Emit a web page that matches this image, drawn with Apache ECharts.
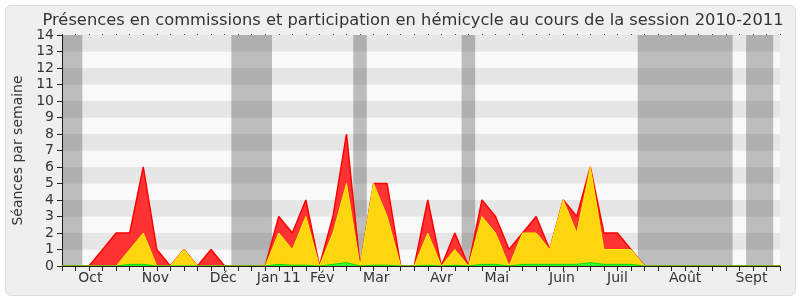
<!DOCTYPE html>
<html><head><meta charset="utf-8">
<script src="https://cdn.jsdelivr.net/npm/echarts@6/dist/echarts.min.js"></script>
<style>
html,body{margin:0;padding:0;background:#fff;}
#wrap{position:absolute;left:5px;top:5px;width:789px;height:289px;background:#efefef;border:1px solid #dcdcdc;border-radius:6px;}
#chart{position:absolute;left:0;top:0;width:800px;height:300px;}
</style></head><body>
<div id="wrap"></div>
<div id="chart"></div>
<script>
// Week index 0..53 (one point per week of the session)
const weeks = Array.from({length: 54}, (_, i) => i);
// Total presences (red)
const red = [0,0,0,1,2,2,6,1,0,1, 0,1,0,0,0,0,3,2,4,0, 3,8,0,5,5,0,0,4,0,2, 0,4,3,1,2,3,1,4,3,6, 2,2,1,0,0,0,0,0,0,0, 0,0,0,0];
// Hemicycle participation (yellow)
const yellow = [0,0,0,0,0,1,2,0,0,1, 0,0,0,0,0,0,2,1,3,0, 2,5,0,5,3,0,0,2,0,1, 0,3,2,0,2,2,1,4,2,6, 1,1,1,0,0,0,0,0,0,0, 0,0,0,0];
// Small green series
const green = [0,0,0,0,0,0.1,0.1,0,0,0, 0,0,0,0,0,0,0.1,0.05,0.05,0, 0.1,0.2,0,0.05,0.05,0,0,0.05,0,0.05, 0,0.1,0.1,0,0.1,0.1,0.1,0.1,0.1,0.2, 0.1,0.1,0.1,0,0,0,0,0,0,0, 0,0,0,0];
// Month labels and their positions (in weeks)
const monthNames = ['Oct','Nov','Déc','Jan 11','Fév','Mar','Avr','Mai','Juin','Juil','Août','Sept'];
const monthPos = [2.1, 6.9, 11.9, 16.0, 19.2, 23.2, 28.0, 32.1, 36.9, 41.0, 46.0, 50.9];
// Vacation periods (in weeks)
const vacations = [[0,1.5],[12.5,15.5],[21.5,22.5],[29.5,30.5],[42.5,49.5],[50.5,52.5]];

const chart = echarts.init(document.getElementById('chart'), null, {renderer:'canvas'});
const monthMap = {};
monthPos.forEach((p,i)=>{monthMap[p]=monthNames[i];});
const pts = arr => weeks.map((k,i)=>[k, arr[i]]);

chart.setOption({
  animation: false,
  backgroundColor: 'transparent',
  textStyle: {fontFamily: 'DejaVu Sans'},
  title: {
    text: 'Présences en commissions et participation en hémicycle au cours de la session 2010-2011',
    left: 408, textAlign: 'center', top: 8,
    textStyle: {fontSize: 16.3, fontWeight: 'normal', color: '#333', fontFamily: 'DejaVu Sans'}
  },
  grid: {left: 62, right: 20, top: 35, bottom: 34},
  xAxis: [
    {type:'value', min:0, max:53, interval:1, position:'bottom', z:10,
     axisLine:{show:true, lineStyle:{color:'#2a1a1a'}},
     axisTick:{show:true, length:5, lineStyle:{color:'#222'}},
     axisLabel:{show:false}, splitLine:{show:false}},
    {type:'value', min:0, max:53, position:'bottom',
     axisLine:{show:false}, axisTick:{show:false}, splitLine:{show:false},
     axisLabel:{show:true, customValues: monthPos, formatter: v => monthMap[v] || '', fontSize:14, color:'#333', margin:5}},
    {type:'value', min:0, max:53, interval:1, position:'top',
     axisLine:{show:false}, axisTick:{show:true, length:1, lineStyle:{color:'#444'}},
     axisLabel:{show:false}, splitLine:{show:false}}
  ],
  yAxis: {
    type:'value', min:0, max:14, interval:1,
    axisLine:{show:true, lineStyle:{color:'#222'}},
    axisTick:{show:true, length:5, lineStyle:{color:'#222'}},
    axisLabel:{fontSize:14, color:'#333', margin:8},
    splitLine:{show:false},
    splitArea:{show:true, areaStyle:{color:['#f9f9f9','#e6e6e6']}},
    name:'Séances par semaine', nameLocation:'middle', nameGap:36,
    nameTextStyle:{fontSize:14, color:'#333'}
  },
  series: [
    {type:'line', xAxisIndex:0, data: pts(red), symbol:'none', z:1, silent:true,
     lineStyle:{opacity:0},
     markArea:{silent:true, itemStyle:{color:'rgba(0,0,0,0.24)'},
       data: vacations.map(v=>[{xAxis:v[0]},{xAxis:v[1]}])}},
    {type:'line', xAxisIndex:0, data: pts(red), symbol:'none', z:2,
     lineStyle:{color:'#ff0000', width:1.5}, areaStyle:{color:'#ff3333', opacity:1}},
    {type:'line', xAxisIndex:0, data: pts(yellow), symbol:'none', z:3,
     lineStyle:{color:'#ffee00', width:1}, areaStyle:{color:'#ffd50f', opacity:1}},
    {type:'line', xAxisIndex:0, data: pts(green), symbol:'none', z:4,
     lineStyle:{color:'#00dd00', width:1}, areaStyle:{color:'#33ff33', opacity:1}}
  ]
});
</script>
</body></html>
